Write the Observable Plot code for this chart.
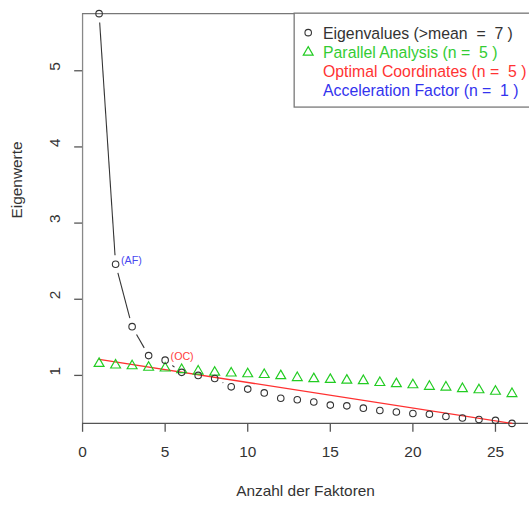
<!DOCTYPE html>
<html><head><meta charset="utf-8">
<script src="https://cdn.jsdelivr.net/npm/d3@7"></script>
<script src="https://cdn.jsdelivr.net/npm/@observablehq/plot@0.6"></script>
<style>
html,body{margin:0;padding:0;background:#fff;overflow:hidden}
#wrap{position:relative;width:529px;height:505px;overflow:hidden}
</style></head><body><div id="wrap"></div>
<script>
// ---- data ----
const factors = d3.range(1, 27);
const eigenvalues = [5.75, 2.46, 1.64, 1.26, 1.20, 1.04, 1.00, 0.96, 0.85, 0.82, 0.77, 0.70, 0.68,
                     0.65, 0.61, 0.60, 0.57, 0.54, 0.52, 0.50, 0.49, 0.46, 0.44, 0.42, 0.41, 0.37];
const parallel = [1.155, 1.135, 1.125, 1.105, 1.095, 1.075, 1.055, 1.04, 1.03, 1.02, 1.01, 0.995, 0.97,
                  0.955, 0.945, 0.935, 0.93, 0.905, 0.89, 0.875, 0.855, 0.845, 0.825, 0.81, 0.79, 0.76];
const ocLineX = [1, 26];
const ocLineY = [1.21, 0.37];
const xTicks = [0, 5, 10, 15, 20, 25];
const yTicks = [1, 2, 3, 4, 5];
const xDomain = [0, 27];
const nKaiser = 7, nParallel = 5, nOC = 5, nAF = 1;
const legendLabels = [
  `Eigenvalues (>mean  =  ${nKaiser} )`,
  `Parallel Analysis (n =  ${nParallel} )`,
  `Optimal Coordinates (n =  ${nOC} )`,
  `Acceleration Factor (n =  ${nAF} )`
];
const legendColors = ["#333333", "#33cc33", "#ff3333", "#3333ee"];
const xTitle = "Anzahl der Faktoren";
const yTitle = "Eigenwerte";

// ---- plot ----
const eigRows = factors.map((f, i) => ({f, e: eigenvalues[i]}));
const parRows = factors.map((f, i) => ({f, p: parallel[i]}));
const segRows = factors.slice(0, -1).map((f, i) => ({x1: f, y1: eigenvalues[i], x2: factors[i + 1], y2: eigenvalues[i + 1]}));
const ocRows = ocLineX.map((x, i) => ({x, y: ocLineY[i]}));
const gap = 9;
const fs = 15.6;

const chart = Plot.plot({
  width: 535, height: 505,
  marginLeft: 83, marginRight: 1, marginTop: 13.3, marginBottom: 77.3,
  x: {domain: xDomain, axis: null},
  y: {domain: d3.extent(eigenvalues), axis: null},
  style: {fontFamily: "'Liberation Sans', Arial, sans-serif", fontSize: fs + "px", background: "white", color: "#333"},
  marks: [
    Plot.ruleX([xDomain[0]], {stroke: "#888", strokeWidth: 1.3}),
    Plot.ruleY([d3.max(eigenvalues)], {stroke: "#777", strokeWidth: 1.3}),
    Plot.ruleY([d3.min(eigenvalues)], {stroke: "#555", strokeWidth: 1.3}),
    Plot.axisX({ticks: xTicks, tickSize: 9, tickFormat: () => "", stroke: "#555", strokeWidth: 1.3, label: null}),
    Plot.axisY({ticks: yTicks, tickSize: 8, tickFormat: () => "", stroke: "#555", strokeWidth: 1.3, label: null}),
    Plot.text(xTicks, {x: d => d, text: d => String(d), frameAnchor: "bottom", dy: 29.5, lineAnchor: "middle", fontSize: fs, fill: "#333"}),
    Plot.text(yTicks, {y: d => d, text: d => String(d), frameAnchor: "left", dx: -28, rotate: -90, lineAnchor: "middle", fontSize: fs, fill: "#333"}),
    Plot.text([xTitle], {text: d => d, frameAnchor: "bottom", dy: 68.5, lineAnchor: "middle", fontSize: fs, fill: "#333"}),
    Plot.text([yTitle], {text: d => d, frameAnchor: "left", dx: -66.3, rotate: -90, lineAnchor: "middle", fontSize: fs, fill: "#333"}),
    Plot.line(ocRows, {x: "x", y: "y", stroke: "#ff3030", strokeWidth: 1.3}),
    Plot.link(segRows, {
      x1: "x1", y1: "y1", x2: "x2", y2: "y2", stroke: "#333", strokeWidth: 1.1,
      render(index, scales, values, dimensions, context, next) {
        const {x1, y1, x2, y2} = values;
        const n = x1.length;
        const X1 = new Float64Array(n), Y1 = new Float64Array(n), X2 = new Float64Array(n), Y2 = new Float64Array(n);
        const keep = [];
        for (const i of index) {
          const dx = x2[i] - x1[i], dy = y2[i] - y1[i], L = Math.hypot(dx, dy);
          if (L <= 2 * gap + 0.5) continue;
          const ux = dx / L, uy = dy / L;
          X1[i] = x1[i] + ux * gap; Y1[i] = y1[i] + uy * gap;
          X2[i] = x2[i] - ux * gap; Y2[i] = y2[i] - uy * gap;
          keep.push(i);
        }
        return next(keep, scales, {...values, x1: X1, y1: Y1, x2: X2, y2: Y2}, dimensions, context);
      }
    }),
    Plot.dot(parRows, {x: "f", y: "p", symbol: "triangle", r: 3.7, stroke: "#22cc22", strokeWidth: 1.2, fill: "none"}),
    Plot.dot(eigRows, {x: "f", y: "e", r: 3.3, stroke: "#333", strokeWidth: 1.1, fill: "none"}),
    Plot.text([nAF + 1], {x: d => d, y: d => eigenvalues[d - 1], text: () => "(AF)", textAnchor: "start", lineAnchor: "bottom", dx: 5.5, fontSize: 10.8, fill: "#4848f0"}),
    Plot.text([nOC], {x: d => d, y: d => eigenvalues[d - 1], text: () => "(OC)", textAnchor: "start", lineAnchor: "bottom", dx: 5.5, fontSize: 10.8, fill: "#ff4040"})
  ]
});

// legend (inside the plot, top-right, cropped at the right edge like the reference)
const svg = d3.select(chart);
const lg = svg.append("g").attr("font-family", "'Liberation Sans', Arial, sans-serif").attr("font-size", 16)
  .attr("text-anchor", "start");
lg.append("rect").attr("x", 297.5).attr("y", 13.3).attr("width", 300).attr("height", 95)
  .attr("fill", "white").attr("stroke", "#777").attr("stroke-width", 1.3);
const baselines = [39, 58.4, 77.8, 97.2];
legendLabels.forEach((t, i) => {
  lg.append("text").attr("x", 326.7).attr("y", baselines[i]).attr("fill", legendColors[i])
    .attr("text-anchor", "start").style("white-space", "pre").attr("xml:space", "preserve").text(t);
});
lg.append("circle").attr("cx", 311.7).attr("cy", baselines[0] - 6).attr("r", 3.3)
  .attr("fill", "none").attr("stroke", "#333").attr("stroke-width", 1.1);
lg.append("path").attr("transform", `translate(311.7,${baselines[1] - 5.5})`)
  .attr("d", d3.symbol(d3.symbolTriangle, Math.PI * 3.7 * 3.7)())
  .attr("fill", "none").attr("stroke", "#22cc22").attr("stroke-width", 1.2);

document.getElementById("wrap").appendChild(chart);
</script></body></html>
